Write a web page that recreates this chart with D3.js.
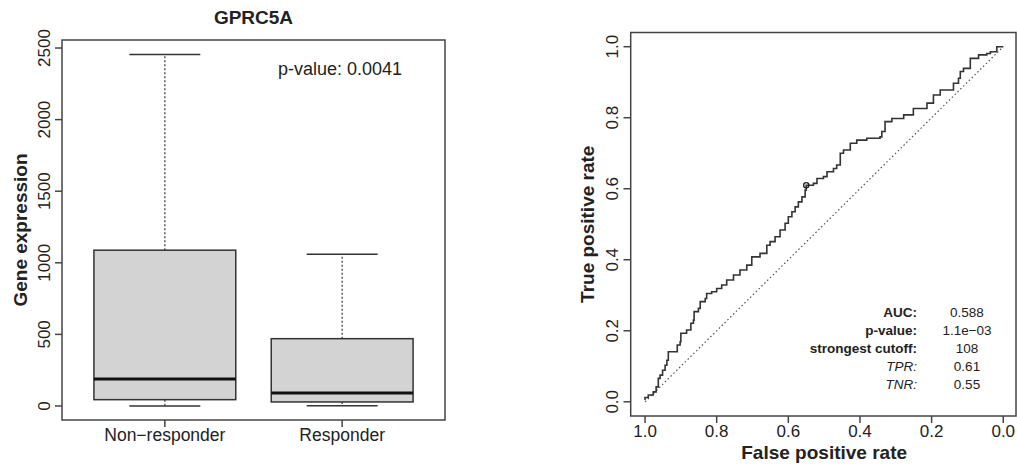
<!DOCTYPE html>
<html>
<head>
<meta charset="utf-8">
<script src="https://cdn.jsdelivr.net/npm/d3@7"></script>
<style>
  body { margin: 0; background: #fff; }
  text { font-family: "Liberation Sans", Arial, sans-serif; fill: #222; }
</style>
</head>
<body>
<svg id="chart" width="1017" height="467"></svg>
<script>
// ---- boxplot data (GPRC5A) ----
var groups = ["Non\u2212responder", "Responder"];
var whiskLow = [0, 2];
var q1 = [44, 28];
var medians = [189, 91];
var q3 = [1088, 470];
var whiskHigh = [2455, 1060];
var boxTicks = [0, 500, 1000, 1500, 2000, 2500];
var pText = "p-value: 0.0041";

// ---- ROC data (specificity, sensitivity) ----
var spec = [1.000, 1.000, 0.991, 0.977, 0.969, 0.963, 0.958, 0.951, 0.944, 0.939, 0.935,
  0.913, 0.910, 0.902, 0.900, 0.884, 0.872, 0.865, 0.863, 0.851, 0.846, 0.832, 0.828,
  0.814, 0.800, 0.786, 0.772, 0.753, 0.735, 0.716, 0.702, 0.679, 0.660, 0.651, 0.637,
  0.623, 0.609, 0.600, 0.590, 0.581, 0.572, 0.562, 0.553, 0.550, 0.530, 0.520, 0.502,
  0.492, 0.474, 0.465, 0.455, 0.446, 0.427, 0.409, 0.381, 0.344, 0.339, 0.330, 0.311,
  0.278, 0.251, 0.213, 0.195, 0.176, 0.157, 0.139, 0.125, 0.120, 0.111, 0.092, 0.069,
  0.046, 0.036, 0.018, 0.000];
var sens = [0.005, 0.012, 0.019, 0.028, 0.042, 0.066, 0.075, 0.089, 0.103, 0.117, 0.141,
  0.141, 0.160, 0.169, 0.193, 0.202, 0.221, 0.230, 0.254, 0.263, 0.282, 0.291, 0.305,
  0.310, 0.319, 0.329, 0.343, 0.357, 0.371, 0.385, 0.408, 0.418, 0.441, 0.451, 0.465,
  0.484, 0.503, 0.521, 0.535, 0.549, 0.563, 0.577, 0.596, 0.610, 0.615, 0.629, 0.634,
  0.648, 0.657, 0.667, 0.700, 0.709, 0.728, 0.737, 0.742, 0.746, 0.761, 0.789, 0.798,
  0.808, 0.826, 0.841, 0.864, 0.878, 0.878, 0.897, 0.911, 0.930, 0.939, 0.967, 0.977,
  0.981, 0.986, 1.000, 1.000];
var bestPoint = [0.55, 0.61];
var rocTicks = [0, 0.2, 0.4, 0.6, 0.8, 1.0];
var statLabels = ["AUC:", "p-value:", "strongest cutoff:", "TPR:", "TNR:"];
var statValues = ["0.588", "1.1e\u221203", "108", "0.61", "0.55"];

var svg = d3.select("#chart");
var axisCol = "#444";

// ================= left: boxplot =================
var bx = d3.scaleLinear().domain([0.42, 2.58]).range([62, 445]);
var by = d3.scaleLinear().domain([-98, 2556]).range([420, 40]);
var left = svg.append("g");

left.append("rect")
  .attr("x", bx(0.42)).attr("y", by(2556))
  .attr("width", bx(2.58) - bx(0.42)).attr("height", by(-98) - by(2556))
  .style("fill", "none").style("stroke", axisCol).style("stroke-width", 1.5);

groups.forEach(function(g, i) {
  var c = i + 1;
  // whiskers
  left.append("line")
    .attr("x1", bx(c)).attr("x2", bx(c)).attr("y1", by(q3[i])).attr("y2", by(whiskHigh[i]))
    .style("stroke", "#333").style("stroke-width", 1.2).style("stroke-dasharray", "2,2");
  left.append("line")
    .attr("x1", bx(c)).attr("x2", bx(c)).attr("y1", by(q1[i])).attr("y2", by(whiskLow[i]))
    .style("stroke", "#333").style("stroke-width", 1.2).style("stroke-dasharray", "2,2");
  // caps
  [whiskLow[i], whiskHigh[i]].forEach(function(v) {
    left.append("line")
      .attr("x1", bx(c - 0.2)).attr("x2", bx(c + 0.2)).attr("y1", by(v)).attr("y2", by(v))
      .style("stroke", "#333").style("stroke-width", 1.5);
  });
  // box
  left.append("rect")
    .attr("x", bx(c - 0.4)).attr("y", by(q3[i]))
    .attr("width", bx(c + 0.4) - bx(c - 0.4)).attr("height", by(q1[i]) - by(q3[i]))
    .style("fill", "#d3d3d3").style("stroke", "#333").style("stroke-width", 1.5);
  // median
  left.append("line")
    .attr("x1", bx(c - 0.4)).attr("x2", bx(c + 0.4)).attr("y1", by(medians[i])).attr("y2", by(medians[i]))
    .style("stroke", "#111").style("stroke-width", 3);
  // x tick + label
  left.append("line")
    .attr("x1", bx(c)).attr("x2", bx(c)).attr("y1", 420).attr("y2", 427)
    .style("stroke", axisCol).style("stroke-width", 1.5);
  left.append("text")
    .attr("x", bx(c)).attr("y", 440.5)
    .attr("text-anchor", "middle")
    .style("font-size", "17.5px")
    .text(g);
});

boxTicks.forEach(function(t) {
  left.append("line")
    .attr("x1", 55).attr("x2", 62).attr("y1", by(t)).attr("y2", by(t))
    .style("stroke", axisCol).style("stroke-width", 1.5);
  left.append("text")
    .attr("transform", "translate(50," + by(t) + ") rotate(-90)")
    .attr("text-anchor", "middle")
    .style("font-size", "17px")
    .text(t);
});

left.append("text")
  .attr("transform", "translate(26.5," + (40 + 420) / 2 + ") rotate(-90)")
  .attr("text-anchor", "middle")
  .style("font-size", "19px").style("font-weight", "bold")
  .text("Gene expression");

left.append("text")
  .attr("x", (62 + 445) / 2).attr("y", 24)
  .attr("text-anchor", "middle")
  .style("font-size", "19px").style("font-weight", "bold")
  .text("GPRC5A");

left.append("text")
  .attr("x", 278).attr("y", 75)
  .style("font-size", "18px")
  .text(pText);

// ================= right: ROC =================
var rx = d3.scaleLinear().domain([1.04, -0.04]).range([630.7, 1017.6]);
var ry = d3.scaleLinear().domain([-0.04, 1.04]).range([416, 32.5]);
var right = svg.append("g");

right.append("rect")
  .attr("x", rx(1.04)).attr("y", ry(1.04))
  .attr("width", 1016 - rx(1.04)).attr("height", ry(-0.04) - ry(1.04))
  .style("fill", "none").style("stroke", axisCol).style("stroke-width", 1.5);

// diagonal
right.append("line")
  .attr("x1", rx(1)).attr("y1", ry(0)).attr("x2", rx(0)).attr("y2", ry(1))
  .style("stroke", "#555").style("stroke-width", 1.2).style("stroke-dasharray", "1.5,2.5");

var rocPts = spec.map(function(s, i) { return [s, sens[i]]; });
var line = d3.line()
  .x(function(d) { return rx(d[0]); })
  .y(function(d) { return ry(d[1]); })
  .curve(d3.curveStepAfter);
right.append("path")
  .datum(rocPts)
  .attr("d", line)
  .style("fill", "none").style("stroke", "#333").style("stroke-width", 1.6);

right.append("circle")
  .attr("cx", rx(bestPoint[0])).attr("cy", ry(bestPoint[1])).attr("r", 2.6)
  .style("fill", "none").style("stroke", "#222").style("stroke-width", 1.4);

rocTicks.forEach(function(t) {
  right.append("line")
    .attr("x1", rx(t)).attr("x2", rx(t)).attr("y1", 416).attr("y2", 423)
    .style("stroke", axisCol).style("stroke-width", 1.5);
  right.append("text")
    .attr("x", rx(t)).attr("y", 436.5)
    .attr("text-anchor", "middle")
    .style("font-size", "17px")
    .text(t.toFixed(1));
  right.append("line")
    .attr("x1", 623.5).attr("x2", 630.7).attr("y1", ry(t)).attr("y2", ry(t))
    .style("stroke", axisCol).style("stroke-width", 1.5);
  right.append("text")
    .attr("transform", "translate(618," + ry(t) + ") rotate(-90)")
    .attr("text-anchor", "middle")
    .style("font-size", "17px")
    .text(t.toFixed(1));
});

right.append("text")
  .attr("x", rx(0.5)).attr("y", 459)
  .attr("text-anchor", "middle")
  .style("font-size", "19px").style("font-weight", "bold")
  .text("False positive rate");

right.append("text")
  .attr("transform", "translate(593.5," + ry(0.5) + ") rotate(-90)")
  .attr("text-anchor", "middle")
  .style("font-size", "19px").style("font-weight", "bold")
  .text("True positive rate");

statLabels.forEach(function(lab, i) {
  var yy = 317 + i * 18;
  right.append("text")
    .attr("x", 917).attr("y", yy)
    .attr("text-anchor", "end")
    .style("font-size", "13.5px")
    .style("font-weight", i < 3 ? "bold" : "normal")
    .style("font-style", i < 3 ? "normal" : "italic")
    .text(lab);
  right.append("text")
    .attr("x", 967).attr("y", yy)
    .attr("text-anchor", "middle")
    .style("font-size", "13.5px")
    .text(statValues[i]);
});
</script>
</body>
</html>
